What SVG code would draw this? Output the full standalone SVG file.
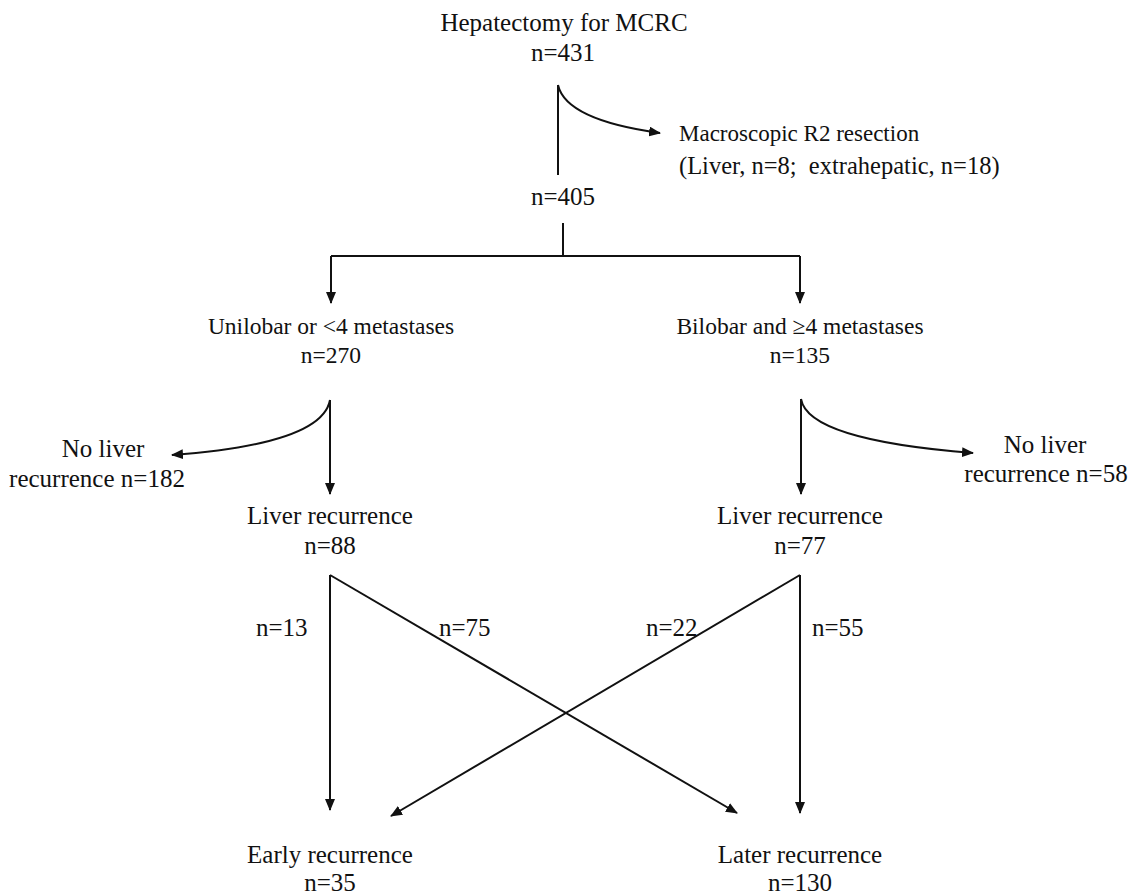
<svg xmlns="http://www.w3.org/2000/svg" width="1131" height="895" viewBox="0 0 1131 895">
<style>
text{font-family:"Liberation Serif","Times New Roman",serif;font-size:25px;fill:#111}
.c{text-anchor:middle}
.s{font-size:23.5px}
.ln{stroke:#111;stroke-width:2;fill:none}
</style>
<defs>
<marker id="ah" viewBox="0 0 12 10" refX="11" refY="5" markerWidth="12" markerHeight="10" markerUnits="userSpaceOnUse" orient="auto">
<path d="M0,0 L12,5 L0,10 Z" fill="#111"/>
</marker>
</defs>
<rect width="1131" height="895" fill="#fff"/>
<g id="n-root"><text class="c" x="564" y="31">Hepatectomy for MCRC</text><text class="c" x="563" y="61">n=431</text></g>
<g id="n-r2"><text x="679" y="141" style="font-size:23px">Macroscopic R2 resection</text><text x="679" y="174" style="font-size:24.5px" xml:space="preserve">(Liver, n=8;  extrahepatic, n=18)</text></g>
<g id="n-405"><text class="c" x="563" y="205">n=405</text></g>
<g id="n-uni"><text class="c s" x="331" y="334">Unilobar or &lt;4 metastases</text><text class="c s" x="331" y="363">n=270</text></g>
<g id="n-bi"><text class="c s" x="800" y="334">Bilobar and ≥4 metastases</text><text class="c s" x="800" y="363">n=135</text></g>
<g id="n-nolivL"><text class="c" x="103" y="457">No liver</text><text class="c" x="97" y="487">recurrence n=182</text></g>
<g id="n-nolivR"><text class="c" x="1045" y="453">No liver</text><text class="c" x="1046" y="482">recurrence n=58</text></g>
<g id="n-livL"><text class="c" x="330" y="524">Liver recurrence</text><text class="c" x="330" y="554">n=88</text></g>
<g id="n-livR"><text class="c" x="800" y="524">Liver recurrence</text><text class="c" x="800" y="554">n=77</text></g>
<g id="n-early"><text class="c" x="330" y="863">Early recurrence</text><text class="c" x="330" y="891">n=35</text></g>
<g id="n-later"><text class="c" x="800" y="863">Later recurrence</text><text class="c" x="800" y="891">n=130</text></g>
<g id="edge-labels">
<text x="256" y="636">n=13</text><text x="439" y="636">n=75</text><text x="646" y="636">n=22</text><text x="812" y="636">n=55</text>
</g>
<g id="connectors">
<path class="ln" d="M558,85 L558,175"/>
<path class="ln" d="M558,85 Q566,120 660,133" marker-end="url(#ah)"/>
<path class="ln" d="M563,223 L563,256"/>
<path class="ln" d="M331,256 L800,256"/>
<path class="ln" d="M331,256 L331,303" marker-end="url(#ah)"/>
<path class="ln" d="M800,256 L800,303" marker-end="url(#ah)"/>
<path class="ln" d="M330,400 L330,494" marker-end="url(#ah)"/>
<path class="ln" d="M330,400 Q322,444 172,455" marker-end="url(#ah)"/>
<path class="ln" d="M801,399 L801,494" marker-end="url(#ah)"/>
<path class="ln" d="M801,399 Q808,440 973,453" marker-end="url(#ah)"/>
<path class="ln" d="M330,575 L330,810" marker-end="url(#ah)"/>
<path class="ln" d="M330,575 L737,813" marker-end="url(#ah)"/>
<path class="ln" d="M800,575 L800,813" marker-end="url(#ah)"/>
<path class="ln" d="M800,575 L391,816" marker-end="url(#ah)"/>
</g>
</svg>
